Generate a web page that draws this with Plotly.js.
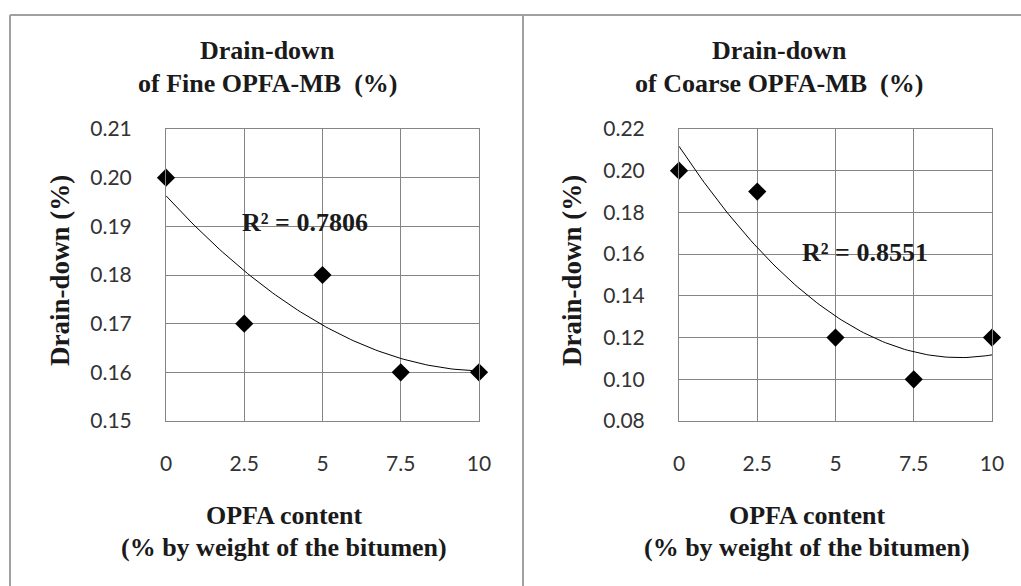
<!DOCTYPE html>
<html>
<head>
<meta charset="utf-8">
<script src="https://cdn.plot.ly/plotly-3.0.1.min.js"></script>
<style>html,body{margin:0;padding:0;background:#fff;}#chart{width:1021px;height:586px;}</style>
</head>
<body>
<div id="chart"></div>
<script>
// ---- data ----
const opfaContent = [0, 2.5, 5, 7.5, 10];
const xTickLabels = ["0", "2.5", "5", "7.5", "10"];
const fineDrainDown = [0.20, 0.17, 0.18, 0.16, 0.16];
const coarseDrainDown = [0.20, 0.19, 0.12, 0.10, 0.12];
const fineTitle = ["Drain-down", "of Fine OPFA-MB  (%)"];
const coarseTitle = ["Drain-down", "of Coarse OPFA-MB  (%)"];
const yTitle = "Drain-down (%)";
const xTitle = ["OPFA content", "(% by weight of the bitumen)"];
const fineYTicks = [0.15, 0.16, 0.17, 0.18, 0.19, 0.20, 0.21];
const coarseYTicks = [0.08, 0.10, 0.12, 0.14, 0.16, 0.18, 0.20, 0.22];

// ---- quadratic least-squares trendline (Excel "Polynomial, order 2") ----
function polyFit2(xs, ys) {
  let S = [0,0,0,0,0], T = [0,0,0];
  for (let i = 0; i < xs.length; i++) {
    let p = 1;
    for (let k = 0; k < 5; k++) { S[k] += p; if (k < 3) T[k] += p * ys[i]; p *= xs[i]; }
  }
  const A = [[S[0],S[1],S[2],T[0]],[S[1],S[2],S[3],T[1]],[S[2],S[3],S[4],T[2]]];
  for (let c = 0; c < 3; c++) {
    for (let r = c + 1; r < 3; r++) {
      const f = A[r][c] / A[c][c];
      for (let k = c; k < 4; k++) A[r][k] -= f * A[c][k];
    }
  }
  const coef = [0,0,0];
  for (let r = 2; r >= 0; r--) {
    let s = A[r][3];
    for (let k = r + 1; k < 3; k++) s -= A[r][k] * coef[k];
    coef[r] = s / A[r][r];
  }
  const f = x => coef[0] + coef[1]*x + coef[2]*x*x;
  const mean = ys.reduce((a,b)=>a+b,0)/ys.length;
  let ssr = 0, sst = 0;
  ys.forEach((y,i)=>{ ssr += (y - f(xs[i]))**2; sst += (y-mean)**2; });
  return { f, r2: 1 - ssr/sst };
}
function curve(fit) {
  const xs = [], ys = [];
  const x0 = opfaContent[0], x1 = opfaContent[opfaContent.length-1];
  for (let i = 0; i <= 100; i++) { const x = x0 + (x1-x0)*i/100; xs.push(x); ys.push(fit.f(x)); }
  return {xs, ys};
}
const fineFit = polyFit2(opfaContent, fineDrainDown);
const coarseFit = polyFit2(opfaContent, coarseDrainDown);
const fineCurve = curve(fineFit), coarseCurve = curve(coarseFit);

// ---- layout helpers ----
const W = 1021, H = 586;
const px = x => x / W, py = y => 1 - y / H;
const serif = "Liberation Serif, Times New Roman, serif";
const tickFont = {family: "Lato, Carlito, sans-serif", size: 21, color: "#333333"};
const gridColor = "#858585";

const markerStyle = {symbol: "diamond", size: 14, color: "#000"};
const traces = [
  {x: fineCurve.xs, y: fineCurve.ys, mode: "lines", line: {color: "#000", width: 1}, xaxis: "x", yaxis: "y", hoverinfo: "skip"},
  {x: opfaContent, y: fineDrainDown, mode: "markers", marker: markerStyle, xaxis: "x", yaxis: "y", cliponaxis: false},
  {x: coarseCurve.xs, y: coarseCurve.ys, mode: "lines", line: {color: "#000", width: 1}, xaxis: "x2", yaxis: "y2", hoverinfo: "skip"},
  {x: opfaContent, y: coarseDrainDown, mode: "markers", marker: markerStyle, xaxis: "x2", yaxis: "y2", cliponaxis: false}
];

function xAxis(domain, anchor) {
  return {
    domain, anchor, range: [0, 10], tickvals: opfaContent, ticktext: xTickLabels,
    showgrid: true, gridcolor: gridColor, gridwidth: 1, zeroline: false,
    showline: true, mirror: true, linecolor: gridColor, linewidth: 1,
    ticks: "", tickfont: tickFont, ticklabelstandoff: 24, fixedrange: true
  };
}
function yAxis(domain, anchor, range, ticks) {
  return {
    domain, anchor, range, tickvals: ticks, tickformat: ".2f",
    showgrid: true, gridcolor: gridColor, gridwidth: 1, zeroline: false,
    showline: true, mirror: true, linecolor: gridColor, linewidth: 1,
    ticks: "", tickfont: tickFont, ticklabelstandoff: 29, fixedrange: true
  };
}
const yDom = [py(421), py(129)];

function txt(text, x, y, size, extra) {
  return Object.assign({text, x: px(x), y: py(y), xref: "paper", yref: "paper", showarrow: false,
    xanchor: "center", yanchor: "middle", font: {family: serif, size, color: "#1a1a1a"}}, extra || {});
}
const fmtR2 = r => "<b>R² = " + r.toFixed(4) + "</b>";
const annotations = [
  txt("<b>" + fineTitle[0] + "</b>", 267, 50, 26),
  txt("<b>" + fineTitle[1] + "</b>", 267, 83, 26),
  txt("<b>" + coarseTitle[0] + "</b>", 779, 50, 26),
  txt("<b>" + coarseTitle[1] + "</b>", 779, 83, 26),
  txt("<b>" + yTitle + "</b>", 60, 271, 27, {textangle: -90}),
  txt("<b>" + yTitle + "</b>", 572, 271, 27, {textangle: -90}),
  txt("<b>" + xTitle[0] + "</b>", 284, 515, 26),
  txt("<b>" + xTitle[1] + "</b>", 284, 547, 26),
  txt("<b>" + xTitle[0] + "</b>", 807, 515, 26),
  txt("<b>" + xTitle[1] + "</b>", 807, 547, 26),
  {text: fmtR2(fineFit.r2), x: 4.45, y: 0.1908, xref: "x", yref: "y", showarrow: false,
   font: {family: serif, size: 26, color: "#1a1a1a"}},
  {text: fmtR2(coarseFit.r2), x: 5.93, y: 0.161, xref: "x2", yref: "y2", showarrow: false,
   font: {family: serif, size: 26, color: "#1a1a1a"}}
];

const frame = {color: "#a0a0a0", width: 2};
const shapes = [
  {type: "line", xref: "paper", yref: "paper", x0: px(10), x1: 1, y0: py(15), y1: py(15), line: frame},
  {type: "line", xref: "paper", yref: "paper", x0: px(10), x1: px(10), y0: py(15), y1: 0, line: frame},
  {type: "line", xref: "paper", yref: "paper", x0: px(523), x1: px(523), y0: py(15), y1: 0, line: frame}
];

const layout = {
  width: W, height: H, margin: {l: 0, r: 0, t: 0, b: 0},
  paper_bgcolor: "#fff", plot_bgcolor: "#fff", showlegend: false,
  xaxis: xAxis([px(166), px(479)], "y"),
  yaxis: yAxis(yDom, "x", [0.15, 0.21], fineYTicks),
  xaxis2: xAxis([px(679), px(992)], "y2"),
  yaxis2: yAxis(yDom, "x2", [0.08, 0.22], coarseYTicks),
  annotations, shapes
};
Plotly.newPlot("chart", traces, layout, {displayModeBar: false, staticPlot: true});
</script>
</body>
</html>
